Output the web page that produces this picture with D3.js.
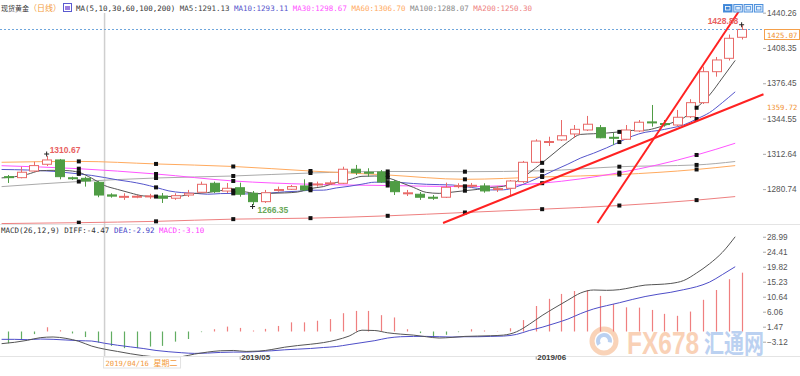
<!DOCTYPE html>
<html><head><meta charset="utf-8">
<script src="https://cdn.jsdelivr.net/npm/d3@7"></script>
<style>body{margin:0;background:#fff}svg{display:block}</style>
</head><body><svg id="c" width="800" height="376"></svg>
<script>
// ---------- DATA ----------
const dates = ["2019-04-05","2019-04-08","2019-04-09","2019-04-10","2019-04-11","2019-04-12","2019-04-15","2019-04-16","2019-04-17","2019-04-18","2019-04-19","2019-04-22","2019-04-23","2019-04-24","2019-04-25","2019-04-26","2019-04-29","2019-04-30",
"2019-05-01","2019-05-02","2019-05-03","2019-05-06","2019-05-07","2019-05-08","2019-05-09","2019-05-10","2019-05-13","2019-05-14","2019-05-15","2019-05-16","2019-05-17","2019-05-20","2019-05-21","2019-05-22","2019-05-23","2019-05-24","2019-05-27","2019-05-28","2019-05-29","2019-05-30","2019-05-31",
"2019-06-03","2019-06-04","2019-06-05","2019-06-06","2019-06-07","2019-06-10","2019-06-11","2019-06-12","2019-06-13","2019-06-14","2019-06-17","2019-06-18","2019-06-19","2019-06-20","2019-06-21","2019-06-24","2019-06-25"];
const open  = [1292.0,1291.1,1297.1,1303.2,1307.1,1291.0,1290.5,1286.9,1275.5,1273.6,1273.7,1274.0,1274.5,1272.5,1275.4,1277.9,1286.0,1279.0,1282.0,1277.0,1269.4,1279.6,1280.6,1283.6,1284.6,1285.7,1286.0,1298.7,1296.0,1296.2,1287.5,1276.5,1276.1,1273.4,1273.4,1283.2,1283.5,1283.6,1280.5,1281.5,1287.5,1305.0,1323.0,1325.2,1330.6,1334.2,1336.3,1327.6,1325.8,1333.3,1341.5,1340.0,1338.7,1346.2,1358.9,1386.9,1399.0,1418.0];
const high  = [1293.5,1301.0,1305.5,1310.67,1308.0,1292.0,1292.0,1288.1,1277.0,1277.0,1275.4,1276.5,1277.2,1277.0,1280.0,1287.5,1287.5,1286.3,1286.6,1279.0,1280.0,1283.0,1284.5,1289.6,1287.5,1288.4,1301.0,1302.6,1299.6,1298.0,1289.0,1280.0,1278.1,1275.4,1286.6,1286.0,1286.3,1286.0,1283.6,1289.0,1306.2,1325.8,1328.1,1343.2,1338.7,1346.9,1338.7,1331.5,1338.7,1343.2,1356.8,1343.2,1352.3,1362.0,1391.4,1400.2,1420.5,1428.88];
const low   = [1286.3,1290.5,1296.2,1301.6,1289.6,1289.0,1283.0,1273.4,1273.0,1271.0,1272.5,1272.0,1268.2,1271.0,1273.6,1277.2,1277.2,1277.2,1273.9,1266.35,1268.2,1278.4,1280.0,1279.0,1283.0,1284.5,1285.4,1293.5,1292.0,1286.3,1275.4,1274.5,1271.0,1271.0,1272.7,1281.5,1281.8,1277.5,1278.1,1275.4,1286.3,1304.4,1319.7,1324.3,1327.0,1333.3,1326.7,1320.6,1325.2,1332.4,1337.2,1337.2,1337.8,1345.0,1357.7,1382.4,1397.0,1416.0];
const close = [1291.5,1296.0,1302.0,1307.1,1292.0,1290.2,1288.1,1275.4,1274.4,1274.2,1274.3,1274.6,1272.5,1274.8,1277.0,1285.1,1278.4,1281.5,1276.1,1269.4,1277.5,1280.4,1283.0,1280.0,1285.4,1286.4,1298.7,1295.6,1295.3,1287.2,1278.4,1277.4,1273.4,1272.8,1282.4,1283.9,1284.2,1279.1,1281.2,1288.1,1305.0,1324.2,1323.8,1329.0,1334.8,1339.4,1327.2,1326.8,1334.2,1341.2,1340.8,1339.4,1345.7,1358.9,1386.9,1397.5,1417.1,1425.07];

const ma5  = [1290.9,1291.9,1294.1,1297.3,1297.7,1297.5,1295.9,1290.6,1284.0,1280.5,1277.3,1274.6,1274.0,1274.1,1274.6,1276.8,1277.6,1279.4,1279.6,1278.1,1276.6,1277.0,1277.3,1278.1,1281.3,1283.0,1286.7,1289.2,1292.3,1292.6,1291.0,1286.8,1282.3,1277.8,1276.9,1278.0,1279.3,1280.5,1282.2,1283.3,1287.5,1295.5,1304.5,1314.0,1323.4,1330.2,1330.8,1331.4,1332.5,1333.8,1334.0,1336.5,1340.3,1345.2,1354.3,1365.7,1381.2,1397.1];
const ma10 = [1298.5,1298.3,1298.0,1297.5,1296.8,1295.7,1294.5,1293.11,1291.2,1289.1,1287.4,1285.2,1282.3,1279.1,1277.6,1277.0,1276.1,1276.7,1276.9,1276.4,1276.7,1277.3,1278.3,1278.8,1279.7,1279.8,1281.8,1283.3,1285.2,1287.0,1287.0,1286.7,1285.8,1285.1,1284.8,1284.5,1283.1,1281.4,1280.0,1280.1,1282.8,1287.4,1292.5,1298.1,1303.3,1308.9,1313.2,1318.0,1323.3,1328.6,1332.1,1333.7,1335.9,1338.8,1344.1,1349.9,1358.9,1368.7];
const maSlowIdx = [0,6,12,18,24,30,36,42,48,54,57];
const ma30  = [1301.9,1299.2,1294.4,1288.1,1285.1,1284.0,1283.0,1286.1,1295.6,1311.6,1322.2];
const ma60  = [1305.0,1305.8,1303.5,1301.2,1297.1,1293.5,1289.6,1291.7,1293.9,1298.5,1302.0];
const ma100 = [1283.0,1287.6,1290.8,1292.6,1295.3,1296.7,1296.5,1297.3,1301.0,1302.6,1305.7];
const ma200 = [1249.6,1250.4,1251.6,1253.6,1254.5,1256.6,1259.6,1262.6,1265.9,1270.8,1274.0];

const diff = [-3.72,-3.31,-2.70,-1.89,-1.68,-2.1,-3.0,-4.47,-5.4,-6.1,-6.8,-7.4,-7.8,-8.0,-7.7,-6.9,-6.3,-5.9,-5.8,-6.1,-6.0,-5.5,-4.8,-4.3,-3.9,-3.4,-2.6,-1.4,0.4,0.3,-0.4,-0.8,-1.1,-1.6,-2.0,-1.8,-1.5,-1.4,-1.3,-1.1,-0.1,2.2,4.9,7.3,9.6,11.8,12.7,12.6,12.8,13.5,14.2,14.4,14.7,15.6,17.9,20.7,24.2,28.99];
const dea  = [-2.40,-2.40,-2.50,-2.30,-2.40,-2.60,-2.80,-2.92,-3.6,-4.2,-4.7,-5.2,-5.8,-6.2,-6.5,-6.7,-6.6,-6.4,-6.3,-6.3,-6.1,-5.9,-5.6,-5.4,-5.2,-4.9,-4.6,-4.0,-3.4,-2.8,-2.0,-1.6,-1.5,-1.5,-1.6,-1.7,-1.6,-1.6,-1.5,-1.4,-0.9,0.3,1.3,2.5,3.8,5.5,6.9,7.9,8.8,9.8,10.7,11.4,12.0,12.8,13.7,15.1,17.4,19.82];
const macdHist = [-3.6,-2.3,-0.8,1.3,0.4,-0.6,-1.7,-3.4,-4.4,-5.1,-5.1,-4.6,-4.4,-3.1,-2.3,-0.2,0.7,1.5,1.1,0.3,0.8,1.7,2.8,2.8,3.3,3.8,5.6,6.3,6.3,5.0,4.3,0.7,-0.5,-1.7,-1.0,-0.2,0.7,0.3,0.1,1.0,3.5,7.8,10.0,11.5,12.4,12.7,10.9,8.4,7.4,7.3,6.6,5.4,4.8,6.1,9.7,12.7,16.0,18.0];

const priceTicks = [1440.26,1408.35,1376.45,1344.55,1312.64,1280.74];
const macdTicks  = [28.99,24.41,19.82,15.23,10.64,6.06,1.47,-3.12];
const monthTickDates  = ["2019-05-01","2019-06-03"];
const monthTickLabels = ["2019/05","2019/06"];
// drawn trend lines: [position in candles, price]
const trendA = [[33.8,1250.1],[58.7,1366.5]];
const trendB = [[45.8,1250.1],[57.06,1446.3]];
const currentPrice = 1425.07;
const trendLabel = 1359.72;
const maNames  = ["MA5","MA10","MA30","MA60","MA100","MA200"];
const maValues = [1291.13,1293.11,1298.67,1306.70,1288.07,1250.30];
const maColors = ["#555555","#5656cc","#ff55ff","#ffaa5e","#aaaaaa","#ee8080"];
const crossDate = "2019-04-16";
const crossWeekday = "星期二";
const macdHeader = [["MACD(26,12,9) DIFF:","-4.47","#333"],["DEA:","-2.92","#4646c8"],["MACD:","-3.10","#ff40ff"]];

// ---------- SCALES ----------
const N = dates.length;
const svg = d3.select("#c");
const x = d3.scaleBand().domain(d3.range(N)).range([1.6, 748.06]).padding(0);
const step = x.step();
const xc = i => x(i) + step / 2;
const xf = d3.scaleLinear().domain([0, N]).range([1.6, 748.06]);
const y = d3.scaleLinear().domain([1249.2, 1449.0]).range([224, 3]);
const ym = d3.scaleLinear().domain([0, 28.99]).range([331.5, 236.76]);

const RED = "#e86a68", GREEN = "#4f9c44";
const MONO = "'DejaVu Sans Mono', 'Liberation Mono', monospace";
const SANS = "'Liberation Sans', Arial, sans-serif";
const CJK = "'Noto Sans CJK SC', sans-serif";

const defs = svg.append("defs");
defs.append("clipPath").attr("id","clipMain").append("rect").attr("x",0).attr("y",3).attr("width",748).attr("height",221);
defs.append("clipPath").attr("id","clipTrend").append("rect").attr("x",0).attr("y",3).attr("width",766).attr("height",221);
defs.append("clipPath").attr("id","clipMacd").append("rect").attr("x",0).attr("y",234).attr("width",748).attr("height",122);

// separators
svg.append("line").attr("x1",0).attr("x2",800).attr("y1",224.5).attr("y2",224.5).attr("stroke","#e4e4e4");
svg.append("line").attr("x1",0).attr("x2",800).attr("y1",356.5).attr("y2",356.5).attr("stroke","#e4e4e4");

// ---------- WATERMARK ----------
const wm = svg.append("g").attr("opacity",0.5);
wm.append("circle").attr("cx",604).attr("cy",341).attr("r",12).attr("fill","none").attr("stroke","#f4a873").attr("stroke-width",5);
wm.append("path").attr("d",d3.arc()({innerRadius:4,outerRadius:8,startAngle:-2.2,endAngle:1.8})).attr("transform","translate(604,341)").attr("fill","#7aa5e4");
wm.append("text").attr("transform","translate(627,354) scale(1,1.25)").text("FX678").attr("font-family",SANS).attr("font-weight","bold").attr("font-size",24.5).attr("fill","#f4a470");
wm.append("text").attr("transform","translate(704,353) scale(1,1.3)").text("汇通网").attr("font-family",CJK).attr("font-weight","bold").attr("font-size",20).attr("fill","#7aa5e4");

// ---------- CROSSHAIR ----------
const ci = dates.indexOf(crossDate);
const crossX = x(ci) + step;
svg.append("line").attr("x1",crossX).attr("x2",crossX).attr("y1",13).attr("y2",356).attr("stroke","#cfcfcf").attr("stroke-width",1.5);

// ---------- MAIN PANEL ----------
const main = svg.append("g").attr("clip-path","url(#clipMain)");
const lineGen = d3.line().x(d => x(d[0])).y(d => y(d[1])).curve(d3.curveMonotoneX);
const maSeries = [
  ma5.map((v,i)=>[i,v]), ma10.map((v,i)=>[i,v]),
  maSlowIdx.map((i,k)=>[i,ma30[k]]), maSlowIdx.map((i,k)=>[i,ma60[k]]),
  maSlowIdx.map((i,k)=>[i,ma100[k]]), maSlowIdx.map((i,k)=>[i,ma200[k]])
];
[5,4,3,2,1,0].forEach(s => {
  main.append("path").attr("d", lineGen(maSeries[s])).attr("fill","none").attr("stroke",maColors[s]).attr("stroke-width",1);
});

// candles
const cg = main.selectAll("g.c").data(d3.range(N)).join("g");
const bodyW = step * 0.68;
cg.append("line")
  .attr("x1", i => Math.round(xc(i)) + 0.5).attr("x2", i => Math.round(xc(i)) + 0.5)
  .attr("y1", i => y(high[i])).attr("y2", i => y(low[i]))
  .attr("stroke", i => close[i] >= open[i] ? RED : GREEN);
cg.append("rect")
  .attr("x", i => Math.round(xc(i) - bodyW/2) + 0.5)
  .attr("y", i => y(Math.max(open[i], close[i])))
  .attr("width", Math.round(bodyW))
  .attr("height", i => Math.max(1, Math.abs(y(open[i]) - y(close[i]))))
  .attr("fill", i => close[i] >= open[i] ? "#fff" : GREEN)
  .attr("stroke", i => close[i] >= open[i] ? RED : GREEN);

// selection squares on MA lines
const squareIdx = d3.range(6, 55, 6);
maSeries.forEach(ser => {
  const m = new Map(ser);
  squareIdx.forEach(i => {
    if (m.has(i)) main.append("rect").attr("x", x(i) - 2).attr("y", y(m.get(i)) - 2).attr("width",4).attr("height",4).attr("fill","#111");
  });
});

// trend lines
const tl = svg.append("g").attr("clip-path","url(#clipTrend)");
const tGen = d3.line().x(d => xf(d[0]) + step/2).y(d => y(d[1]));
[trendA, trendB].forEach(t => tl.append("path").attr("d", tGen(t)).attr("fill","none").attr("stroke","#ff2222").attr("stroke-width",2));

// current price dashed line
svg.append("line").attr("x1",0).attr("x2",764).attr("y1",Math.round(y(currentPrice))+0.5).attr("y2",Math.round(y(currentPrice))+0.5)
  .attr("stroke","#6fa6dc").attr("stroke-dasharray","2,2");

// high / low annotations
const hiI = high.indexOf(d3.max(high.slice(0,30)));
const loI = low.indexOf(d3.min(low));
const topI = high.indexOf(d3.max(high));
function cross(cx, cy) {
  svg.append("path").attr("d", `M${cx-2.5},${cy}H${cx+2.5}M${cx},${cy-2.5}V${cy+2.5}`).attr("stroke","#222").attr("stroke-width",1);
}
cross(xc(hiI), y(high[hiI]) - 2);
svg.append("text").attr("x", xc(hiI) + 3).attr("y", y(high[hiI]) - 3).text(high[hiI].toFixed(2))
  .attr("font-family",SANS).attr("font-weight","bold").attr("font-size",8.5).attr("fill","#e8615f");
cross(xc(loI), y(low[loI]) + 1.5);
svg.append("text").attr("x", xc(loI) + 5).attr("y", y(low[loI]) + 8).text(low[loI].toFixed(2))
  .attr("font-family",SANS).attr("font-weight","bold").attr("font-size",8.5).attr("fill","#6aa85a");
cross(xc(topI), y(high[topI]) - 0.5);
svg.append("text").attr("x", xc(topI) - 34).attr("y", y(high[topI]) - 1).text(high[topI].toFixed(2))
  .attr("font-family",SANS).attr("font-weight","bold").attr("font-size",8.5).attr("fill","#e8615f");

// ---------- RIGHT PRICE AXIS ----------
const pAxis = svg.append("g").attr("transform","translate(763,0)")
  .call(d3.axisRight(y).tickValues(priceTicks).tickFormat(d3.format(".2f")).tickSize(3).tickPadding(1));
pAxis.select(".domain").remove();
pAxis.selectAll("line").attr("stroke","#aaa");
pAxis.selectAll("text").attr("font-family",SANS).attr("font-size",8.2).attr("fill","#555");

// current price label box
const cpY = Math.round(y(currentPrice));
svg.append("rect").attr("x",764.5).attr("y",cpY+0.5).attr("width",35).attr("height",10).attr("fill","#fff").attr("stroke","#f5a04a");
svg.append("text").attr("x",767).attr("y",cpY+8.5).text(currentPrice.toFixed(2)).attr("font-family",MONO).attr("font-size",7.2)
  .attr("fill","#f0902e");
svg.append("text").attr("x",767).attr("y",y(trendLabel)+8.5).text(trendLabel.toFixed(2)).attr("font-family",MONO).attr("font-size",7.2)
  .attr("fill","#f0902e");

// top-right icons
[0,1,2,3].forEach(k => {
  const ix = 723 + k*10.3;
  svg.append("rect").attr("x",ix+0.5).attr("y",4.5).attr("width",8.5).attr("height",7.5)
    .attr("fill", k===0 ? "#3f86d6" : "#e3effc").attr("stroke","#4b8fdc");
  svg.append("rect").attr("x",ix+2.5).attr("y",6.5).attr("width",4.5).attr("height",3.5)
    .attr("fill","none").attr("stroke", k===0 ? "#fff" : "#4b8fdc").attr("stroke-width",0.8);
});

// ---------- HEADER ----------
const FS = 7.5, CW = FS * 0.602;
function mono(xp, yp, str, color) {
  svg.append("text").attr("x",xp).attr("y",yp).text(str).attr("font-family",MONO).attr("font-size",FS).attr("fill",color);
  return xp + str.length*CW;
}
svg.append("text").attr("x",1).attr("y",10.5).text("现货黄金").attr("font-family",CJK).attr("font-size",7).attr("fill","#333");
svg.append("text").attr("x",29).attr("y",10.5).text("（日线）").attr("font-family",CJK).attr("font-size",8).attr("fill","#f39a3b");
svg.append("rect").attr("x",63.5).attr("y",3.5).attr("width",8).attr("height",8).attr("fill","#fff").attr("stroke","#5a5ad0");
svg.append("rect").attr("x",65).attr("y",6).attr("width",5).attr("height",4).attr("fill","#9b7fe0");
let hx = mono(76, 10.5, "MA(" + [5,10,30,60,100,200].join(",") + ")", "#333") + CW;
maNames.forEach((n, k) => {
  hx = mono(hx, 10.5, n + ":" + maValues[k].toFixed(2), k === 0 ? "#444" : (k===4 ? "#888" : maColors[k])) + CW;
});

// ---------- MACD PANEL ----------
let mx = 1;
macdHeader.forEach(h => { mx = mono(mx, 232.5, h[0] + h[1], h[2]) + CW; });

const mg = svg.append("g").attr("clip-path","url(#clipMacd)");
mg.selectAll("line.h").data(d3.range(N)).join("line")
  .attr("x1", i => Math.round(xc(i)) + 0.5).attr("x2", i => Math.round(xc(i)) + 0.5)
  .attr("y1", ym(0)).attr("y2", i => ym(macdHist[i]))
  .attr("stroke", i => macdHist[i] >= 0 ? "#ef7f7f" : "#62ad62").attr("stroke-width",1.2);
const mLine = d3.line().x((d,i) => x(i)).y(d => ym(d)).curve(d3.curveMonotoneX);
mg.append("path").attr("d", mLine(dea)).attr("fill","none").attr("stroke","#4e4ec8").attr("stroke-width",1);
mg.append("path").attr("d", mLine(diff)).attr("fill","none").attr("stroke","#555").attr("stroke-width",1);

const mAxis = svg.append("g").attr("transform","translate(763,0)")
  .call(d3.axisRight(ym).tickValues(macdTicks).tickFormat(d3.format(".2f")).tickSize(3).tickPadding(1));
mAxis.select(".domain").remove();
mAxis.selectAll("line").attr("stroke","#aaa");
mAxis.selectAll("text").attr("font-family",SANS).attr("font-size",8.2).attr("fill","#555");

// ---------- X AXIS ----------
const xAxisG = svg.append("g").attr("transform","translate(0,356.5)")
  .call(d3.axisBottom(d3.scaleLinear().domain([0,N]).range([1.6+step/2, 748.06+step/2]))
    .tickValues(monthTickDates.map(d => dates.indexOf(d)))
    .tickFormat((d,k) => monthTickLabels[k]).tickSize(3).tickPadding(2));
xAxisG.select(".domain").remove();
xAxisG.selectAll("line").attr("stroke","#999");
xAxisG.selectAll("text").attr("text-anchor","start").attr("dx",1).attr("dy",-1.5)
  .attr("font-family",SANS).attr("font-weight","bold").attr("font-size",8).attr("fill","#3a3a3a");

// crosshair date tag
const tag = svg.append("g");
tag.append("rect").attr("x",crossX-1).attr("y",357).attr("width",77).attr("height",11).attr("fill","#fff").attr("stroke","#e2e2e2");
tag.append("text").attr("x",crossX+1).attr("y",365.5).text(crossDate.replace(/-/g,"/")).attr("font-family",MONO).attr("font-size",7.2)
  .attr("fill","#f39a3b");
tag.append("text").attr("x",crossX+49).attr("y",365.5).text(crossWeekday).attr("font-family",CJK).attr("font-size",8)
  .attr("fill","#f39a3b");
</script>
</body></html>
